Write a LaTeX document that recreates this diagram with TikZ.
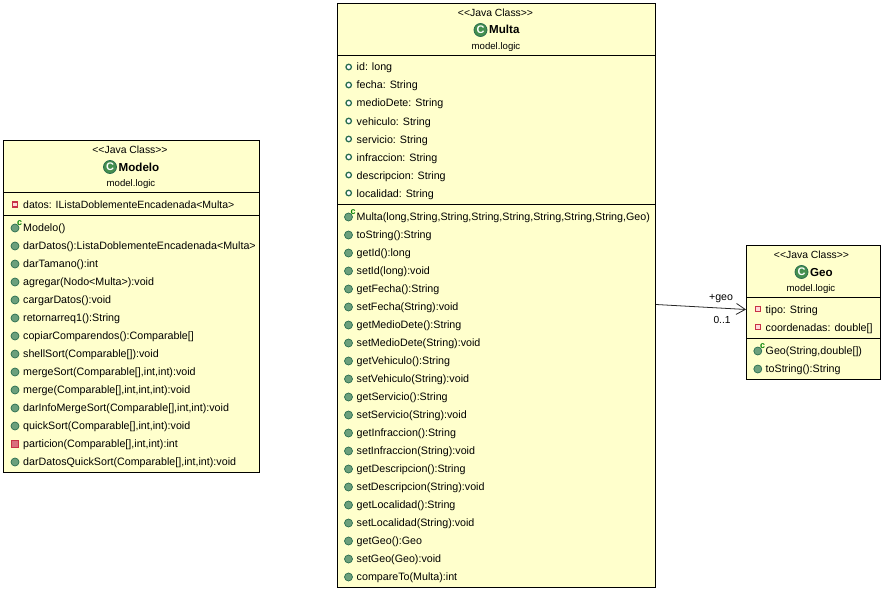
\documentclass[tikz,border=0pt]{standalone}
\usepackage{fontspec}
\setmainfont{Liberation Sans}
\usetikzlibrary{arrows.meta}

\definecolor{classfill}{RGB}{255,255,204}
\definecolor{pubgreen}{RGB}{108,160,124}
\definecolor{pubdark}{RGB}{42,110,80}
\definecolor{privred}{RGB}{200,50,70}

\tikzset{
    classbox/.style={draw=black,fill=classfill,line width=1pt,anchor=north west,inner sep=0pt},
    rowtext/.style={anchor=west,inner sep=0pt,font=\fontsize{10.7}{12}\selectfont,text height=8pt,text depth=2pt,text=black},
    headtext/.style={inner sep=0pt,font=\fontsize{9.6}{12}\selectfont,text height=8pt,text depth=2pt,text=black},
    stereotext/.style={headtext,font=\fontsize{10.4}{12}\selectfont},
    nametext/.style={anchor=west,inner sep=0pt,font=\fontsize{11.6}{12}\selectfont\bfseries,text height=8pt,text depth=2pt},
    classicon/.style={circle,fill=pubgreen!80!green!80!black,draw=pubdark,line width=0.8pt,minimum size=13pt,inner sep=0pt,
        text=white,font=\fontsize{11}{11}\selectfont\bfseries},
    pubm/.style={circle,fill=pubgreen,draw=pubdark,line width=0.7pt,minimum size=8pt,inner sep=0pt},
    ctorm/.style={pubm,label={[ctormark]45:c}},
    ctormark/.style={inner sep=0pt,label distance=-1.5pt,text=green!50!black,font=\fontsize{9}{9}\selectfont\bfseries},
    pubf/.style={circle,fill=white,draw=pubdark,line width=1.3pt,minimum size=5.5pt,inner sep=0pt},
    privf/.style={rectangle,fill=red!15,draw=privred,line width=1.3pt,minimum size=5pt,inner sep=0pt},
    privm/.style={rectangle,fill=privred!70,draw=privred,line width=0.8pt,minimum size=7pt,inner sep=0pt},
    assoc/.style={-{Straight Barb[length=9pt,width=11pt]},line width=0.8pt,black!85},
    sepline/.style={line width=1pt}
}

\begin{document}
\begin{tikzpicture}[x=1pt,y=-1pt]
    \useasboundingbox (0,0) rectangle (883,591);

    % Class boxes
    \node[classbox,minimum width=256pt,minimum height=332pt] (modelo) at (3,140) {};
    \node[classbox,minimum width=318pt,minimum height=583.5pt] (multa) at (337,3) {};
    \node[classbox,minimum width=133.5pt,minimum height=133.5pt] (geo) at (746,245) {};

    % Compartment lines
    \draw[sepline] (modelo.west |- 0,192.5) -- (modelo.east |- 0,192.5);
    \draw[sepline] (modelo.west |- 0,215.5) -- (modelo.east |- 0,215.5);
    \draw[sepline] (multa.west |- 0,55.5) -- (multa.east |- 0,55.5);
    \draw[sepline] (multa.west |- 0,204.5) -- (multa.east |- 0,204.5);
    \draw[sepline] (geo.west |- 0,297.5) -- (geo.east |- 0,297.5);
    \draw[sepline] (geo.west |- 0,338.5) -- (geo.east |- 0,338.5);

    % Headers
    \node[stereotext] (modelostereo) at (130,150.5) {<{}<Java Class>{}>};
    \node[classicon] (modeloicon) at (110,167) {C};
    \node[nametext] (modeloname) at (118.5,168) {Modelo};
    \node[headtext] (modelopkg) at (131,183.5) {model.logic};

    \node[stereotext] (multastereo) at (495.5,13.5) {<{}<Java Class>{}>};
    \node[classicon] (multaicon) at (480.5,30) {C};
    \node[nametext] (multaname) at (489,31) {Multa};
    \node[headtext] (multapkg) at (496,46.5) {model.logic};

    \node[stereotext] (geostereo) at (811.5,255.5) {<{}<Java Class>{}>};
    \node[classicon] (geoicon) at (801.5,272) {C};
    \node[nametext] (geoname) at (810,273) {Geo};
    \node[headtext] (geopkg) at (811,288.5) {model.logic};

    % Modelo members
    \node[privf] (modelof) at (15,204.5) {};
    \node[rowtext,font=\fontsize{10.5}{12}\selectfont] (modelofname) at (23,205) {datos: IListaDoblementeEncadenada<Multa>};
    \foreach \kind/\txt [count=\i from 0] in {
        ctorm/{Modelo()},
        pubm/{darDatos():ListaDoblementeEncadenada<Multa>},
        pubm/{darTamano():int},
        pubm/{agregar(Nodo<Multa>):void},
        pubm/{cargarDatos():void},
        pubm/{retornarreq1():String},
        pubm/{copiarComparendos():Comparable[]},
        pubm/{shellSort(Comparable[]):void},
        pubm/{mergeSort(Comparable[],int,int):void},
        pubm/{merge(Comparable[],int,int,int):void},
        pubm/{darInfoMergeSort(Comparable[],int,int):void},
        pubm/{quickSort(Comparable[],int,int):void},
        privm/{particion(Comparable[],int,int):int},
        pubm/{darDatosQuickSort(Comparable[],int,int):void}} {
        \pgfmathsetmacro{\rowy}{228+18*\i}
        \node[\kind] (modelom\i) at (15,\rowy) {};
        \node[rowtext] (modelomname\i) at (23,\rowy) {\txt};
    }

    % Multa attributes
    \foreach \txt [count=\i from 0] in {id: long,fecha: String,medioDete: String,vehiculo: String,
        servicio: String,infraccion: String,descripcion: String,localidad: String} {
        \pgfmathsetmacro{\rowy}{68+18*\i}
        \node[pubf] (multaf\i) at (348.7,\rowy-1) {};
        \node[rowtext] (multafname\i) at (356.5,\rowy) {\txt};
    }

    % Multa methods
    \foreach \kind/\txt [count=\i from 0] in {
        ctorm/{Multa(long,String,String,String,String,String,String,String,Geo)},
        pubm/{toString():String},
        pubm/{getId():long},
        pubm/{setId(long):void},
        pubm/{getFecha():String},
        pubm/{setFecha(String):void},
        pubm/{getMedioDete():String},
        pubm/{setMedioDete(String):void},
        pubm/{getVehiculo():String},
        pubm/{setVehiculo(String):void},
        pubm/{getServicio():String},
        pubm/{setServicio(String):void},
        pubm/{getInfraccion():String},
        pubm/{setInfraccion(String):void},
        pubm/{getDescripcion():String},
        pubm/{setDescripcion(String):void},
        pubm/{getLocalidad():String},
        pubm/{setLocalidad(String):void},
        pubm/{getGeo():Geo},
        pubm/{setGeo(Geo):void},
        pubm/{compareTo(Multa):int}} {
        \pgfmathsetmacro{\rowy}{217+18*\i}
        \node[\kind] (multam\i) at (348.5,\rowy) {};
        \node[rowtext] (multamname\i) at (356.5,\rowy) {\txt};
    }

    % Geo members
    \node[privf] (geof0) at (758.3,309.3) {};
    \node[rowtext] (geofname0) at (765.5,310) {tipo: String};
    \node[privf] (geof1) at (758.3,327.3) {};
    \node[rowtext] (geofname1) at (765.5,328) {coordenadas: double[]};
    \node[ctorm] (geom0) at (757.8,351) {};
    \node[rowtext] (geomname0) at (765.5,351) {Geo(String,double[])};
    \node[pubm] (geom1) at (757.8,369) {};
    \node[rowtext] (geomname1) at (765.5,369) {toString():String};

    % Association
    \coordinate (assocstart) at (multa.east |- 0,304.5);
    \coordinate (assocend) at (geo.west |- 0,309.5);
    \draw[assoc] (assocstart) -- (assocend);
    \node[stereotext,font=\fontsize{10.6}{12}\selectfont] (assocrole) at (721,297.5) {+geo};
    \node[stereotext,font=\fontsize{10.2}{12}\selectfont] (assocmult) at (722,320) {0..1};
\end{tikzpicture}
\end{document}
